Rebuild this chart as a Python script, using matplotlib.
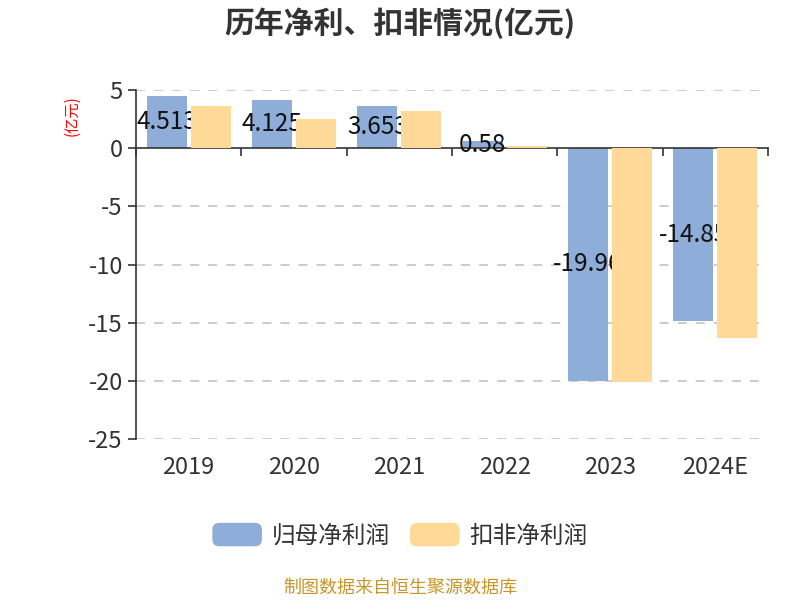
import numpy as np
import matplotlib.pyplot as plt
from matplotlib.patches import FancyBboxPatch, Rectangle
from matplotlib.legend_handler import HandlerPatch

plt.rcParams['font.family'] = ['Noto Sans CJK SC', 'DejaVu Sans']
plt.rcParams['axes.unicode_minus'] = False

years = ['2019', '2020', '2021', '2022', '2023', '2024E']
net_profit = [4.513, 4.125, 3.653, 0.58, -19.96, -14.85]
net_profit_labels = ['4.513', '4.125', '3.653', '0.58', '-19.96', '-14.85']
deducted = [3.63, 2.52, 3.18, 0.18, -20.1, -16.3]

blue = '#8eadd9'
orange = '#ffd997'


class RoundHandler(HandlerPatch):
    def create_artists(self, legend, orig_handle, xdescent, ydescent,
                       width, height, fontsize, trans):
        p = FancyBboxPatch((-xdescent, -ydescent), width, height,
                           boxstyle='round,pad=0,rounding_size=5',
                           facecolor=orig_handle.get_facecolor(),
                           edgecolor='none', transform=trans)
        return [p]


fig = plt.figure(figsize=(8, 6), dpi=100)
ax = fig.add_axes([0.17, 0.268, 0.79, 0.582])

x = np.arange(len(years))
w = 0.38
b1 = ax.bar(x - 0.21, net_profit, w, color=blue, zorder=2, label='归母净利润')
b2 = ax.bar(x + 0.21, deducted, w, color=orange, zorder=4, label='扣非净利润')

for xi, v, t in zip(x, net_profit, net_profit_labels):
    ax.text(xi - 0.21, v / 2, t, ha='center', va='center', fontsize=17.5,
            color='#111111', zorder=3)

ax.set_xlim(-0.5, len(years) - 0.5)
ax.set_ylim(-25, 5)
ax.set_yticks(np.arange(-25, 6, 5))
ax.tick_params(axis='y', labelsize=17, colors='#333333', length=6, width=1.2,
               labelcolor='#333333')
for v in [5, -5, -10, -15, -20, -25]:
    ax.axhline(v, color='#c8c8c8', lw=1.3, ls=(0, (5, 5)), zorder=1)

ax.spines['top'].set_visible(False)
ax.spines['right'].set_visible(False)
ax.spines['left'].set_color('#333333')
ax.spines['left'].set_linewidth(1.2)
ax.spines['bottom'].set_position(('data', 0))
ax.spines['bottom'].set_color('#333333')
ax.spines['bottom'].set_linewidth(1.2)
ax.set_xticks(np.arange(-0.5, len(years), 1))
ax.set_xticklabels([])
ax.tick_params(axis='x', length=6, width=1.2, colors='#333333')
for xi, yr in zip(x, years):
    ax.text(xi, -0.08, yr, transform=ax.get_xaxis_transform(), ha='center',
            va='center', fontsize=17, color='#333333')

fig.text(0.09, 0.808, '(亿元)', rotation=90, color='red', fontsize=11,
         ha='center', va='center')
fig.text(0.5, 0.962, '历年净利、扣非情况(亿元)', ha='center', va='center',
         fontsize=21.5, fontweight='bold', color='#333333')
fig.legend(handles=[b1.patches[0], b2.patches[0]], labels=['归母净利润', '扣非净利润'],
           loc='center', bbox_to_anchor=(0.5, 0.108), ncol=2,
           frameon=False, fontsize=17, handlelength=2.1, handleheight=1.15,
           columnspacing=0.85, handletextpad=0.42, labelcolor='#333333',
           handler_map={Rectangle: RoundHandler()})
fig.text(0.5, 0.02, '制图数据来自恒生聚源数据库', ha='center', va='center',
         fontsize=13, color='#c8962a')

fig.savefig('out.png', dpi=100)
